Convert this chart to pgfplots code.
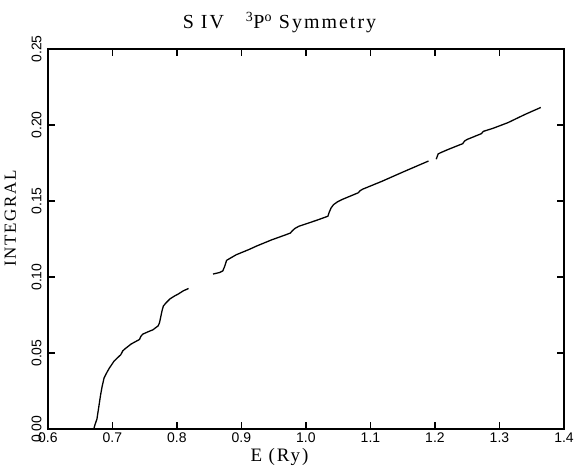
\documentclass[border=0pt]{standalone}
\usepackage{fontspec}
\setmainfont{Liberation Serif}
\newfontfamily\ticksf{Liberation Sans}
\newfontfamily\labelsf[LetterSpace=10]{Liberation Serif}
\usepackage{pgfplots}
\pgfplotsset{compat=1.18}
\begin{document}
\begin{tikzpicture}
\begin{axis}[
  name=main,
  at={(0pt,0pt)}, anchor=south west,
  scale only axis, width=517pt, height=381pt,
  xmin=0.6, xmax=1.4, ymin=0, ymax=0.25,
  xtick={0.6,0.7,0.8,0.9,1.0,1.1,1.2,1.3,1.4},
  xticklabels={0.6,0.7,0.8,0.9,1.0,1.1,1.2,1.3,1.4},
  ytick={0,0.05,0.10,0.15,0.20,0.25},
  yticklabels={0.00,0.05,0.10,0.15,0.20,0.25},
  tick align=inside, major tick length=7pt,
  axis line style={black, line width=1.8pt},
  tick style={black, line width=1.6pt},
  ticklabel style={font=\ticksf\fontsize{14}{14}\selectfont},
  yticklabel style={xshift=-3pt, rotate=90, anchor=south},
]
\addplot[black, line width=1.3pt] coordinates {
(0.600,0) (0.671,0) (0.673,0.003) (0.676,0.0067) (0.679,0.015) (0.6816,0.0224) (0.684,0.028) (0.687,0.0336) (0.691,0.037) (0.695,0.040) (0.7026,0.0448) (0.708,0.047) (0.713,0.049) (0.716,0.0515) (0.720,0.053) (0.729,0.056) (0.742,0.059) (0.744,0.061) (0.747,0.0625) (0.755,0.064) (0.763,0.0654) (0.771,0.068) (0.773,0.070) (0.775,0.074) (0.777,0.078) (0.779,0.081) (0.783,0.083) (0.789,0.0856) (0.796,0.0875) (0.8026,0.089) (0.810,0.091) (0.818,0.0925)
};
\addplot[black, line width=1.3pt] coordinates {
(0.856,0.102) (0.866,0.103) (0.871,0.104) (0.874,0.107) (0.877,0.111) (0.883,0.1125) (0.892,0.1147) (0.911,0.118) (0.924,0.1205) (0.947,0.1245) (0.970,0.128) (0.976,0.129) (0.979,0.1305) (0.983,0.132) (0.989,0.1334) (1.017,0.1374) (1.034,0.140) (1.036,0.1425) (1.039,0.1455) (1.043,0.1477) (1.049,0.1495) (1.056,0.151) (1.081,0.1554) (1.084,0.1568) (1.088,0.1578) (1.118,0.163) (1.150,0.169) (1.190,0.1763)
};
\addplot[black, line width=1.3pt] coordinates {
(1.202,0.1775) (1.205,0.181) (1.210,0.182) (1.221,0.184) (1.243,0.1877) (1.246,0.1895) (1.250,0.1905) (1.272,0.1943) (1.275,0.1958) (1.290,0.1978) (1.313,0.2015) (1.340,0.207) (1.364,0.2115)
};
\end{axis}
\node[anchor=base, font=\labelsf\fontsize{20}{20}\selectfont] at (232pt,401pt) {S IV\hspace{1.1em}\textsuperscript{3}P\textsuperscript{o} Symmetry};
\node[anchor=base, font=\labelsf\fontsize{19}{19}\selectfont] at (232pt,-32pt) {E (Ry)};
\node[rotate=90, anchor=base, font=\labelsf\fontsize{17}{17}\selectfont] at (-32pt,211pt) {INTEGRAL};
\path (-48pt,-44pt) (529pt,430pt);
\end{tikzpicture}
\end{document}
